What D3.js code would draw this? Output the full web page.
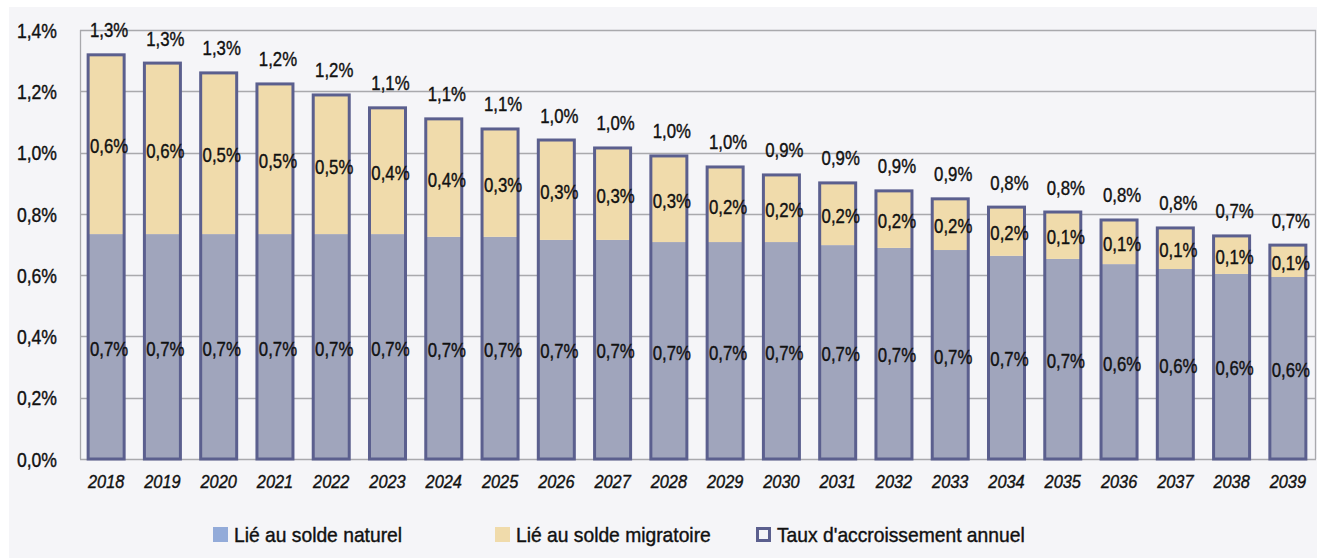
<!DOCTYPE html>
<html><head><meta charset="utf-8">
<script src="https://cdn.jsdelivr.net/npm/d3@7"></script>
<style>
html,body{margin:0;padding:0;background:#fff;}
svg{display:block;}
text{font-family:"Liberation Sans",Arial,sans-serif;fill:#111;stroke:#111;stroke-width:0.4;}
</style></head><body>
<svg id="c" width="1317" height="558"></svg>
<script>
const years = ["2018","2019","2020","2021","2022","2023","2024","2025","2026","2027","2028","2029","2030","2031","2032","2033","2034","2035","2036","2037","2038","2039"];
const totalRate = [1.319,1.292,1.260,1.224,1.188,1.146,1.110,1.077,1.041,1.015,0.989,0.953,0.927,0.901,0.875,0.849,0.822,0.806,0.780,0.754,0.728,0.698];
const naturalPart = [0.734,0.734,0.734,0.734,0.734,0.734,0.725,0.725,0.715,0.715,0.708,0.708,0.708,0.698,0.689,0.682,0.663,0.653,0.636,0.620,0.604,0.594];
const totalLabels = ["1,3%","1,3%","1,3%","1,2%","1,2%","1,1%","1,1%","1,1%","1,0%","1,0%","1,0%","1,0%","0,9%","0,9%","0,9%","0,9%","0,8%","0,8%","0,8%","0,8%","0,7%","0,7%"];
const migrLabels = ["0,6%","0,6%","0,5%","0,5%","0,5%","0,4%","0,4%","0,3%","0,3%","0,3%","0,3%","0,2%","0,2%","0,2%","0,2%","0,2%","0,2%","0,1%","0,1%","0,1%","0,1%","0,1%"];
const natLabels = ["0,7%","0,7%","0,7%","0,7%","0,7%","0,7%","0,7%","0,7%","0,7%","0,7%","0,7%","0,7%","0,7%","0,7%","0,7%","0,7%","0,7%","0,7%","0,6%","0,6%","0,6%","0,6%"];
const yTicks = [0,0.2,0.4,0.6,0.8,1.0,1.2,1.4];
const seriesNames = ["Lié au solde naturel","Lié au solde migratoire","Taux d'accroissement annuel"];

const svg = d3.select("#c");
const W = 1317, H = 558;
const plot = {l:80, r:1316, t:30, b:459};
const cNat = "#a0a5bc", cMig = "#f0dbab", cStroke = "#5b5f8e", cLegNat = "#93abd9";

svg.append("rect").attr("x",9).attr("y",7).attr("width",W-9).attr("height",H-7).attr("fill","#f5f5f8");

const x = d3.scaleBand().domain(years).range([78, plot.r]).paddingInner(0.36).paddingOuter(0.18);
const y = d3.scaleLinear().domain([0,1.4]).range([plot.b, plot.t]);

// grid
svg.append("g").selectAll("line").data(yTicks).join("line")
  .attr("x1",plot.l).attr("x2",plot.r)
  .attr("y1",d=>Math.round(y(d))+0.5).attr("y2",d=>Math.round(y(d))+0.5)
  .attr("stroke","#a9a9ad").attr("stroke-width",1.3);
svg.append("line").attr("x1",plot.l+0.5).attr("x2",plot.l+0.5).attr("y1",plot.t).attr("y2",plot.b)
  .attr("stroke","#a9a9ad").attr("stroke-width",1.3);
svg.append("line").attr("x1",plot.r-0.5).attr("x2",plot.r-0.5).attr("y1",plot.t).attr("y2",plot.b)
  .attr("stroke","#a9a9ad").attr("stroke-width",1.3);

// y axis
const yAxis = d3.axisLeft(y).tickValues(yTicks).tickSize(0).tickPadding(0)
  .tickFormat(d=>d3.format(".1f")(d).replace(".",",")+"%");
const ga = svg.append("g").attr("transform","translate(57,0)").call(yAxis);
ga.select(".domain").remove();
ga.selectAll("text").attr("font-size",20).attr("fill","#111").attr("dy","0.36em")
  .attr("transform","scale(0.88,1)")
  .style("font-family",'"Liberation Sans",Arial,sans-serif');

// x axis
const xAxis = d3.axisBottom(x).tickSize(0).tickPadding(0);
const gx = svg.append("g").attr("transform","translate(0,474)").call(xAxis);
gx.select(".domain").remove();
gx.selectAll("text").attr("font-size",19).attr("font-style","italic").attr("fill","#222")
  .attr("stroke","#222").attr("stroke-width",0.2).attr("dy","0.72em")
  .attr("transform","scale(0.86,1)")
  .style("font-family",'"Liberation Sans",Arial,sans-serif');

const data = years.map((yr,i)=>({yr, tot: totalRate[i], nat: naturalPart[i], tl: totalLabels[i], ml: migrLabels[i], nl: natLabels[i]}));
const bars = svg.append("g");
bars.selectAll("rect.nat").data(data).join("rect").attr("class","nat")
  .attr("x",d=>x(d.yr)).attr("width",x.bandwidth())
  .attr("y",d=>y(d.nat)).attr("height",d=>y(0)-y(d.nat)).attr("fill",cNat);
bars.selectAll("rect.mig").data(data).join("rect").attr("class","mig")
  .attr("x",d=>x(d.yr)).attr("width",x.bandwidth())
  .attr("y",d=>y(d.tot)).attr("height",d=>y(d.nat)-y(d.tot)).attr("fill",cMig);
bars.selectAll("rect.tot").data(data).join("rect").attr("class","tot")
  .attr("x",d=>x(d.yr)).attr("width",x.bandwidth())
  .attr("y",d=>y(d.tot)).attr("height",d=>y(0)-y(d.tot))
  .attr("fill","none").attr("stroke",cStroke).attr("stroke-width",3);

const lab = svg.append("g");
const cx = d=>x(d.yr)+x.bandwidth()/2+3;
function putLabels(cls, yfn, tfn){
  lab.selectAll("g."+cls).data(data).join("g").attr("class",cls)
    .attr("transform",d=>`translate(${cx(d)},${yfn(d)}) scale(0.84,1)`)
    .append("text").attr("text-anchor","middle").attr("font-size",20).attr("dy","0.35em").text(tfn);
}
putLabels("t", d=>y(d.tot)-24.5, d=>d.tl);
putLabels("m", d=>(y(d.tot)+y(d.nat))/2+2, d=>d.ml);
putLabels("n", d=>(y(d.nat)+y(0))/2+2, d=>d.nl);

// legend
const leg = svg.append("g");
const legX = [213, 495, 756];
const legFill = [cLegNat, cMig, "#f5f5f8"];
seriesNames.forEach((s,i)=>{
  const g = leg.append("g").attr("transform",`translate(${legX[i]},527)`);
  if(i<2){
    g.append("rect").attr("width",15).attr("height",15).attr("fill",legFill[i]);
  } else {
    g.append("rect").attr("x",1.5).attr("y",1.5).attr("width",12).attr("height",12)
      .attr("fill",legFill[i]).attr("stroke",cStroke).attr("stroke-width",3);
  }
  g.append("g").attr("transform",`translate(21,7.5) scale(0.94,1)`)
    .append("text").attr("dy","0.36em").attr("font-size",20.5).text(s);
});
</script></body></html>
